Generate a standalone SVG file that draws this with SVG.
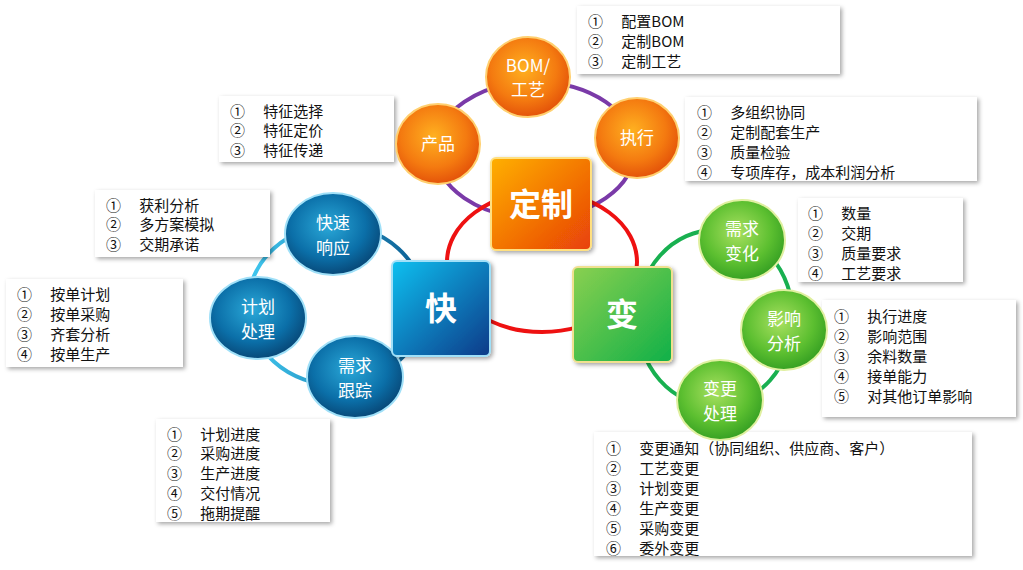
<svg xmlns="http://www.w3.org/2000/svg" width="1023" height="570" viewBox="0 0 1023 570">
<defs>
<filter id="sh" x="-10%" y="-10%" width="130%" height="140%"><feDropShadow dx="2" dy="2" stdDeviation="2" flood-color="#000" flood-opacity="0.35"/></filter>
<radialGradient id="go" cx="0.45" cy="0.4" r="0.65"><stop offset="0" stop-color="#ffb020"/><stop offset="0.6" stop-color="#f47a10"/><stop offset="1" stop-color="#e04a08"/></radialGradient>
<radialGradient id="gb" cx="0.45" cy="0.4" r="0.65"><stop offset="0" stop-color="#2aa8d8"/><stop offset="0.6" stop-color="#0b6fa8"/><stop offset="1" stop-color="#07406e"/></radialGradient>
<radialGradient id="gg" cx="0.45" cy="0.4" r="0.65"><stop offset="0" stop-color="#a8e060"/><stop offset="0.6" stop-color="#5cbf30"/><stop offset="1" stop-color="#2e9a20"/></radialGradient>
<linearGradient id="so" x1="0" y1="0" x2="1" y2="1"><stop offset="0" stop-color="#ffb000"/><stop offset="1" stop-color="#e84008"/></linearGradient>
<linearGradient id="sb" x1="0" y1="0" x2="1" y2="1"><stop offset="0" stop-color="#10c0f0"/><stop offset="1" stop-color="#083a88"/></linearGradient>
<linearGradient id="sg" x1="0" y1="0" x2="1" y2="1"><stop offset="0" stop-color="#8ad050"/><stop offset="1" stop-color="#10b048"/></linearGradient>
<linearGradient id="rb" x1="0" y1="0" x2="1" y2="0"><stop offset="0" stop-color="#40c8f0"/><stop offset="1" stop-color="#0a5a90"/></linearGradient>
</defs>
<style>
.bx{fill:#fff;filter:url(#sh)}
.t{font-family:"Noto Sans CJK SC","Liberation Sans",sans-serif;font-size:15px;fill:#111}
.c{font-family:"Noto Sans CJK SC","Liberation Sans",sans-serif;font-size:17px;fill:#fff;text-anchor:middle}
.big{font-family:"Noto Sans CJK SC",sans-serif;font-size:32px;font-weight:bold;fill:#fff;text-anchor:middle}
.ring{fill:none;stroke-width:4}
</style>
<g id="connectors">
<ellipse class="ring" cx="535" cy="150" rx="100" ry="68" stroke="#7a3aa8"/>
<ellipse class="ring" cx="336" cy="305" rx="88" ry="80" stroke="url(#rb)"/>
<ellipse class="ring" cx="715" cy="318" rx="78" ry="88" stroke="#18b050"/>
<ellipse class="ring" cx="542" cy="262" rx="95" ry="70" stroke="#ee1111"/>
</g>
<g id="boxes">
<rect class="bx" x="577" y="6" width="263" height="68"/>
<text class="t" x="588" y="27">①　 配置BOM</text><text class="t" x="588" y="47">②　 定制BOM</text><text class="t" x="588" y="67">③　 定制工艺</text>
<rect class="bx" x="219" y="96" width="175" height="66"/>
<text class="t" x="230" y="117">①　 特征选择</text><text class="t" x="230" y="136">②　 特征定价</text><text class="t" x="230" y="156">③　 特征传递</text>
<rect class="bx" x="685" y="97" width="292" height="84"/>
<text class="t" x="697" y="118">①　 多组织协同</text><text class="t" x="697" y="138">②　 定制配套生产</text><text class="t" x="697" y="158">③　 质量检验</text><text class="t" x="697" y="178">④　 专项库存，成本利润分析</text>
<rect class="bx" x="95" y="190" width="175" height="67"/>
<text class="t" x="106" y="211">①　 获利分析</text><text class="t" x="106" y="230">②　 多方案模拟</text><text class="t" x="106" y="250">③　 交期承诺</text>
<rect class="bx" x="798" y="198" width="165" height="84"/>
<text class="t" x="808" y="219">①　 数量</text><text class="t" x="808" y="239">②　 交期</text><text class="t" x="808" y="259">③　 质量要求</text><text class="t" x="808" y="279">④　 工艺要求</text>
<rect class="bx" x="6" y="279" width="177" height="88"/>
<text class="t" x="17" y="300">①　 按单计划</text><text class="t" x="17" y="320">②　 按单采购</text><text class="t" x="17" y="340">③　 齐套分析</text><text class="t" x="17" y="360">④　 按单生产</text>
<rect class="bx" x="822" y="300" width="194" height="117"/>
<text class="t" x="834" y="322">①　 执行进度</text><text class="t" x="834" y="342">②　 影响范围</text><text class="t" x="834" y="362">③　 余料数量</text><text class="t" x="834" y="382">④　 接单能力</text><text class="t" x="834" y="402">⑤　 对其他订单影响</text>
<rect class="bx" x="156" y="419" width="174" height="103"/>
<text class="t" x="167" y="440">①　 计划进度</text><text class="t" x="167" y="459">②　 采购进度</text><text class="t" x="167" y="479">③　 生产进度</text><text class="t" x="167" y="499">④　 交付情况</text><text class="t" x="167" y="519">⑤　 拖期提醒</text>
<rect class="bx" x="594" y="432" width="378" height="124"/>
<text class="t" x="606" y="454">①　 变更通知（协同组织、供应商、客户）</text><text class="t" x="606" y="474">②　 工艺变更</text><text class="t" x="606" y="494">③　 计划变更</text><text class="t" x="606" y="514">④　 生产变更</text><text class="t" x="606" y="534">⑤　 采购变更</text><text class="t" x="606" y="554">⑥　 委外变更</text>
</g>
<g id="n-bom"><ellipse cx="528" cy="77" rx="42" ry="40" fill="url(#go)" stroke="#ffd070" stroke-width="2"/><text class="c" x="528" y="72">BOM/</text><text class="c" x="528" y="96">工艺</text></g>
<g id="n-product"><ellipse cx="438" cy="144" rx="42" ry="40" fill="url(#go)" stroke="#ffd070" stroke-width="2"/><text class="c" x="438" y="150">产品</text></g>
<g id="n-exec"><ellipse cx="637" cy="138" rx="42" ry="40" fill="url(#go)" stroke="#ffd070" stroke-width="2"/><text class="c" x="637" y="144">执行</text></g>
<g id="n-fast"><ellipse cx="333" cy="234" rx="48" ry="41" fill="url(#gb)" stroke="#a0e0f8" stroke-width="2"/><text class="c" x="333" y="229">快速</text><text class="c" x="333" y="254">响应</text></g>
<g id="n-plan"><ellipse cx="258" cy="318" rx="48" ry="41" fill="url(#gb)" stroke="#a0e0f8" stroke-width="2"/><text class="c" x="258" y="313">计划</text><text class="c" x="258" y="338">处理</text></g>
<g id="n-track"><ellipse cx="355" cy="377" rx="48" ry="41" fill="url(#gb)" stroke="#a0e0f8" stroke-width="2"/><text class="c" x="355" y="372">需求</text><text class="c" x="355" y="397">跟踪</text></g>
<g id="n-demand"><ellipse cx="742" cy="240" rx="43" ry="40" fill="url(#gg)" stroke="#e0f0a0" stroke-width="2"/><text class="c" x="742" y="235">需求</text><text class="c" x="742" y="260">变化</text></g>
<g id="n-impact"><ellipse cx="784" cy="330" rx="43" ry="40" fill="url(#gg)" stroke="#e0f0a0" stroke-width="2"/><text class="c" x="784" y="325">影响</text><text class="c" x="784" y="350">分析</text></g>
<g id="n-change"><ellipse cx="720" cy="400" rx="43" ry="40" fill="url(#gg)" stroke="#e0f0a0" stroke-width="2"/><text class="c" x="720" y="395">变更</text><text class="c" x="720" y="420">处理</text></g>
<g id="n-custom"><rect x="491" y="158" width="100" height="92" rx="5" fill="url(#so)" stroke="#ffe080" stroke-width="2" filter="url(#sh)"/><text class="big" x="541" y="216">定制</text></g>
<g id="n-kuai"><rect x="392" y="261" width="98" height="95" rx="5" fill="url(#sb)" stroke="#a0e0f8" stroke-width="2" filter="url(#sh)"/><text class="big" x="441" y="320">快</text></g>
<g id="n-bian"><rect x="573" y="267" width="99" height="95" rx="5" fill="url(#sg)" stroke="#f0e090" stroke-width="2" filter="url(#sh)"/><text class="big" x="622" y="326">变</text></g>
</svg>
